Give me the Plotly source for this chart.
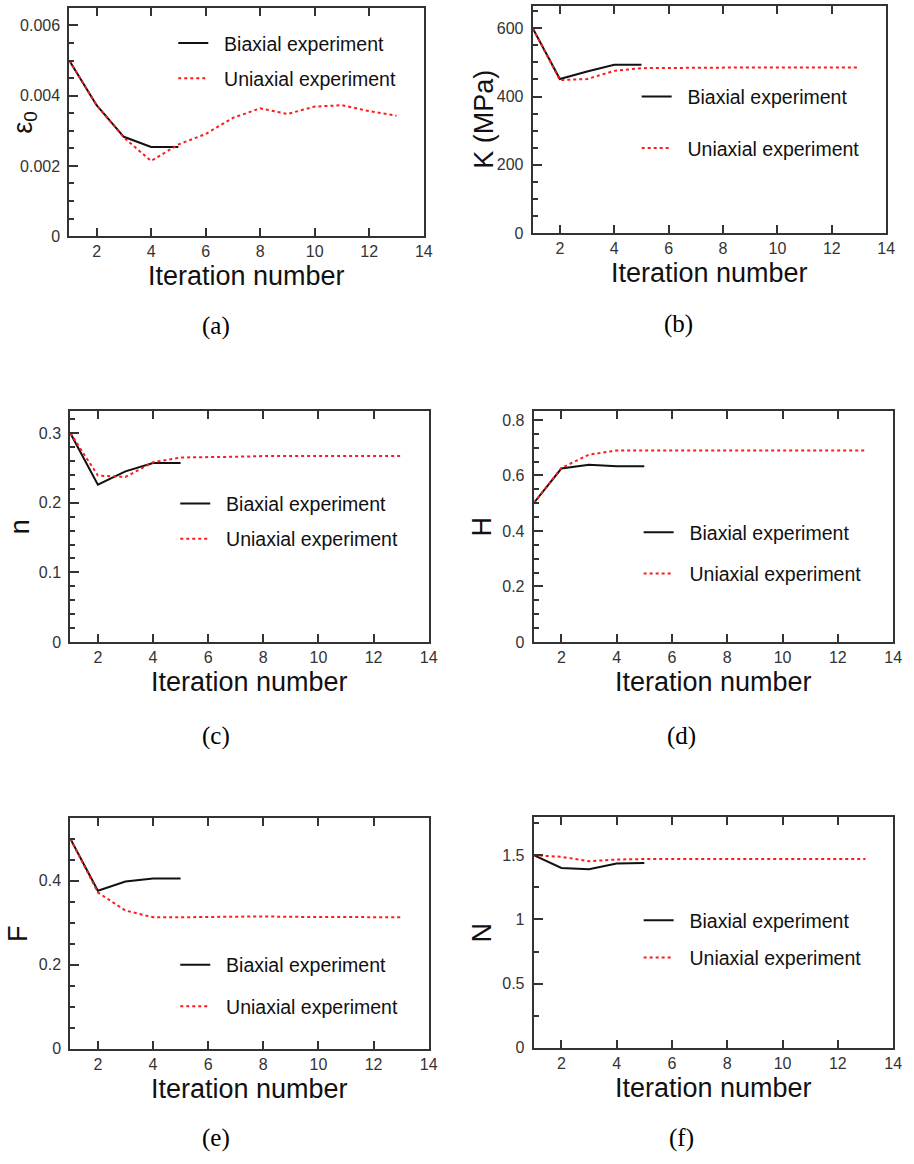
import plotly.graph_objects as go

W, H = 914, 1164

# ---------------- data ----------------
iter_bi = [1, 2, 3, 4, 5]
iter_uni = [1, 2, 3, 4, 5, 6, 7, 8, 9, 10, 11, 12, 13]

eps0_bi = [0.0050, 0.00373, 0.00283, 0.00254, 0.00254]
eps0_uni = [0.0050, 0.00373, 0.00281, 0.00214, 0.00261, 0.00291, 0.00337,
            0.00364, 0.00348, 0.00369, 0.00373, 0.00356, 0.00343]

K_bi = [600, 451, 473, 493, 493]
K_uni = [600, 448, 451, 475, 483, 484, 484, 485, 485, 485, 486, 485, 485]

n_bi = [0.300, 0.226, 0.245, 0.257, 0.257]
n_uni = [0.300, 0.239, 0.237, 0.258, 0.265, 0.265, 0.266, 0.267, 0.267,
         0.268, 0.268, 0.267, 0.267]

H_bi = [0.500, 0.625, 0.639, 0.633, 0.633]
H_uni = [0.500, 0.627, 0.675, 0.690, 0.690, 0.690, 0.690, 0.690, 0.690,
         0.690, 0.690, 0.690, 0.690]

F_bi = [0.500, 0.376, 0.398, 0.405, 0.405]
F_uni = [0.500, 0.372, 0.329, 0.313, 0.313, 0.314, 0.315, 0.315, 0.314,
         0.314, 0.314, 0.314, 0.313]

N_bi = [1.50, 1.40, 1.39, 1.435, 1.44]
N_uni = [1.50, 1.487, 1.453, 1.466, 1.470, 1.470, 1.472, 1.472, 1.471,
         1.471, 1.472, 1.471, 1.470]

x_ticks = [2, 4, 6, 8, 10, 12, 14]
series_names = ["Biaxial experiment", "Uniaxial experiment"]
y_titles = ["ε<sub>0</sub>", "K (MPa)", "n", "H", "F", "N"]
captions = ["(a)", "(b)", "(c)", "(d)", "(e)", "(f)"]
x_title = "Iteration number"

panels = [
    # data, y range, dtick, minor dtick
    (eps0_bi, eps0_uni, [0, 0.0065], 0.002, 0.0005),
    (K_bi, K_uni, [0, 665], 200, 50),
    (n_bi, n_uni, [0, 0.332], 0.1, 0.02),
    (H_bi, H_uni, [0, 0.833], 0.2, 0.05),
    (F_bi, F_uni, [0, 0.55], 0.2, 0.05),
    (N_bi, N_uni, [0, 1.80], 0.5, 0.25),
]

# ---------------- layout geometry (pixels) ----------------
boxes = [  # left, right, top, bottom
    (70, 428, 8, 238),
    (538, 895, 6, 235),
    (71, 433, 414, 647),
    (539, 902, 414, 647),
    (71, 433, 824, 1057),
    (539, 902, 823, 1056),
]
ytitle_x = [25, 488, 21, 487, 18, 487]
caption_pos = [(218, 329), (685, 327), (218, 742), (688, 742), (218, 1147), (688, 1147)]
legend_pos = [(180, 43, 36), (648, 97, 52), (182, 507, 36), (650, 536, 42),
              (182, 972, 42), (650, 927, 38)]  # sample start x, first item y, spacing

def px(x):
    return x / W

def py(y):
    return 1 - y / H

AXIS_COL = "#333333"
TICK_FONT = dict(family="Liberation Sans, Arial, sans-serif", size=16, color="#333333")
TITLE_FONT = dict(family="Liberation Sans, Arial, sans-serif", size=27, color="#111111")
LEG_FONT = dict(family="Liberation Sans, Arial, sans-serif", size=19.5, color="#111111")
CAP_FONT = dict(family="Liberation Serif, Times New Roman, serif", size=25, color="#000000")

fig = go.Figure()
layout = dict(
    width=W, height=H, margin=dict(l=0, r=0, t=0, b=0),
    paper_bgcolor="white", plot_bgcolor="white", showlegend=True,
)
annotations = []

for i, (bi, uni, yr, dt, mdt) in enumerate(panels):
    k = "" if i == 0 else str(i + 1)
    xa, ya = "x" + k, "y" + k
    leg = "legend" + k
    fig.add_trace(go.Scatter(x=iter_bi, y=bi, mode="lines", name="\u00a0\u00a0" + series_names[0],
                             line=dict(color="#111111", width=2), xaxis=xa, yaxis=ya,
                             legend=leg, legendgroup="b" + k))
    fig.add_trace(go.Scatter(x=iter_uni, y=uni, mode="lines", name="\u00a0\u00a0" + series_names[1],
                             line=dict(color="#ff1a1a", width=2, dash="3px,3px"), xaxis=xa, yaxis=ya,
                             legend=leg, legendgroup="u" + k))
    l, r, t, b = boxes[i]
    layout["xaxis" + k] = dict(
        domain=[px(l), px(r)], anchor=ya, range=[1, 14], tickvals=x_ticks,
        ticks="inside", ticklen=8, tickwidth=2, tickcolor=AXIS_COL,
        showline=True, linecolor=AXIS_COL, linewidth=2, mirror="ticks",
        showgrid=False, zeroline=False, tickfont=TICK_FONT,
    )
    layout["yaxis" + k] = dict(
        domain=[py(b), py(t)], anchor=xa, range=yr, dtick=dt, tick0=0,
        ticks="inside", ticklen=9, tickwidth=2, tickcolor=AXIS_COL,
        minor=dict(dtick=mdt, ticks="inside", ticklen=5, tickwidth=2, tickcolor=AXIS_COL, showgrid=False),
        showline=True, linecolor=AXIS_COL, linewidth=2, mirror=True,
        showgrid=False, zeroline=False, tickfont=TICK_FONT, ticklabelstandoff=4,
    )
    sx, sy, sp = legend_pos[i]
    layout[leg] = dict(
        x=px(sx - 5), y=py(sy - 19), xanchor="left", yanchor="top",
        bgcolor="rgba(0,0,0,0)", borderwidth=0, font=LEG_FONT,
        tracegroupgap=sp - 29, itemclick=False,
    )
    # axis titles
    annotations.append(dict(x=px((l + r) / 2), y=py(b + 40), xref="paper", yref="paper",
                            text=x_title, showarrow=False, font=TITLE_FONT,
                            xanchor="center", yanchor="middle"))
    annotations.append(dict(x=px(ytitle_x[i]), y=py((t + b) / 2), xref="paper", yref="paper",
                            text=y_titles[i], showarrow=False, font=TITLE_FONT, textangle=-90,
                            xanchor="center", yanchor="middle"))
    cx, cy = caption_pos[i]
    annotations.append(dict(x=px(cx), y=py(cy), xref="paper", yref="paper",
                            text=captions[i], showarrow=False, font=CAP_FONT,
                            xanchor="center", yanchor="middle"))

layout["annotations"] = annotations
fig.update_layout(**layout)
fig.write_html("out.html")
